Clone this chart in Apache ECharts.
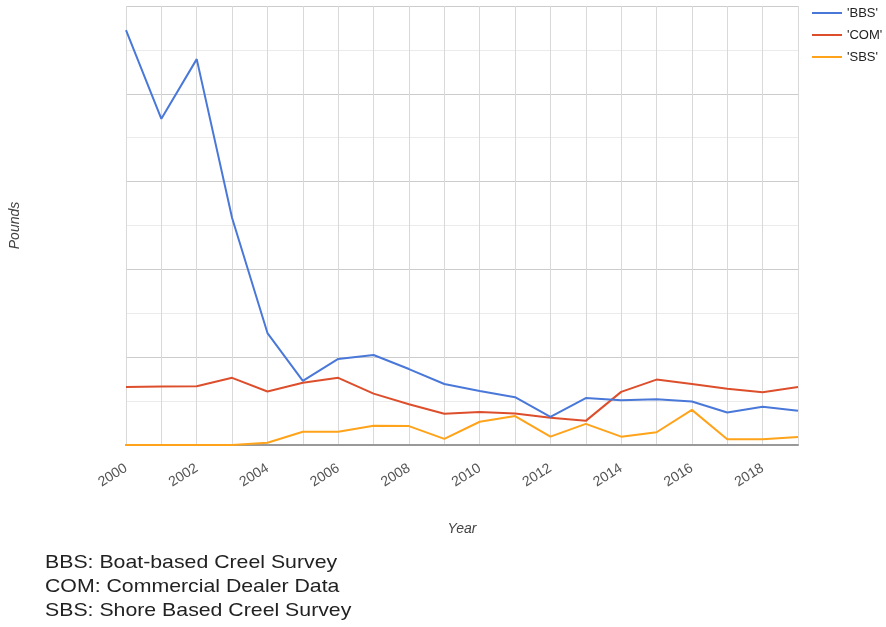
<!DOCTYPE html>
<html>
<head>
<meta charset="utf-8">
<script src="https://cdn.jsdelivr.net/npm/echarts@6/dist/echarts.min.js"></script>
<style>
  html, body { margin: 0; padding: 0; background: #fff; }
  #chart { width: 886px; height: 627px; }
</style>
</head>
<body>
<div id="chart"></div>
<script>
// values are in arbitrary units (the reference hides the y labels)
const years = ['2000','2001','2002','2003','2004','2005','2006','2007','2008','2009',
  '2010','2011','2012','2013','2014','2015','2016','2017','2018','2019']
const bbs = [9.45, 7.43, 8.79, 5.17, 2.55, 1.46, 1.96, 2.05, 1.73, 1.39,
  1.23, 1.09, 0.64, 1.07, 1.02, 1.04, 0.99, 0.74, 0.87, 0.78]
const com = [1.32, 1.33, 1.34, 1.53, 1.22, 1.42, 1.53, 1.17, 0.93, 0.71,
  0.75, 0.72, 0.62, 0.55, 1.21, 1.49, 1.39, 1.28, 1.20, 1.32]
const sbs = [0, 0, 0, 0, 0.05, 0.30, 0.30, 0.44, 0.43, 0.14,
  0.53, 0.66, 0.19, 0.48, 0.19, 0.29, 0.80, 0.13, 0.13, 0.18]
const seriesNames = ["'BBS'", "'COM'", "'SBS'"]
const colors = ['#4a78d9', '#dd4f2c', '#ffa31a']
const notes = [
  'BBS: Boat-based Creel Survey',
  'COM: Commercial Dealer Data',
  'SBS: Shore Based Creel Survey'
]

const font = 'Liberation Sans, Arial, sans-serif'
const mychart = echarts.init(document.getElementById('chart'))
const mkLine = (name, data, i) => ({
  name,
  type: 'line',
  data,
  symbol: 'none',
  lineStyle: { width: 2, color: colors[i] },
  itemStyle: { color: colors[i] },
  z: 3 - i
})
mychart.setOption({
  animation: false,
  textStyle: { fontFamily: font },
  grid: { left: 126, right: 88, top: 6, bottom: 182, containLabel: false, outerBoundsMode: 'none' },
  legend: {
    orient: 'vertical',
    left: 812,
    top: 6,
    padding: 0,
    icon: 'rect',
    itemWidth: 30,
    itemHeight: 2,
    itemGap: 8,
    textStyle: { color: '#222', fontSize: 13, lineHeight: 14 },
    data: seriesNames
  },
  xAxis: {
    type: 'category',
    data: years,
    boundaryGap: false,
    name: 'Year',
    nameLocation: 'middle',
    nameGap: 77,
    nameTextStyle: { fontStyle: 'italic', color: '#444', fontSize: 14 },
    axisLine: { lineStyle: { color: '#999', width: 2 } },
    axisTick: { show: false },
    axisLabel: { interval: 1, rotate: 32, color: '#555', fontSize: 14, margin: 22 },
    splitLine: { show: true, interval: 0, lineStyle: { color: '#d9d9d9' } }
  },
  yAxis: {
    type: 'value',
    min: 0,
    max: 10,
    interval: 2,
    name: 'Pounds',
    nameLocation: 'middle',
    nameGap: 104,
    nameTextStyle: { fontStyle: 'italic', color: '#444', fontSize: 14 },
    axisLine: { show: false },
    axisTick: { show: false },
    axisLabel: { show: false },
    splitLine: { lineStyle: { color: '#cccccc' } },
    minorTick: { show: false, splitNumber: 2 },
    minorSplitLine: { show: true, lineStyle: { color: '#ebebeb' } }
  },
  graphic: notes.map((t, i) => ({
    type: 'text',
    x: 45,
    y: 553 + i * 24,
    scaleX: 1.12,
    style: { text: t, fill: '#222', fontSize: 19, fontFamily: font }
  })),
  series: [
    mkLine(seriesNames[0], bbs, 0),
    mkLine(seriesNames[1], com, 1),
    mkLine(seriesNames[2], sbs, 2)
  ]
})
</script>
</body>
</html>
